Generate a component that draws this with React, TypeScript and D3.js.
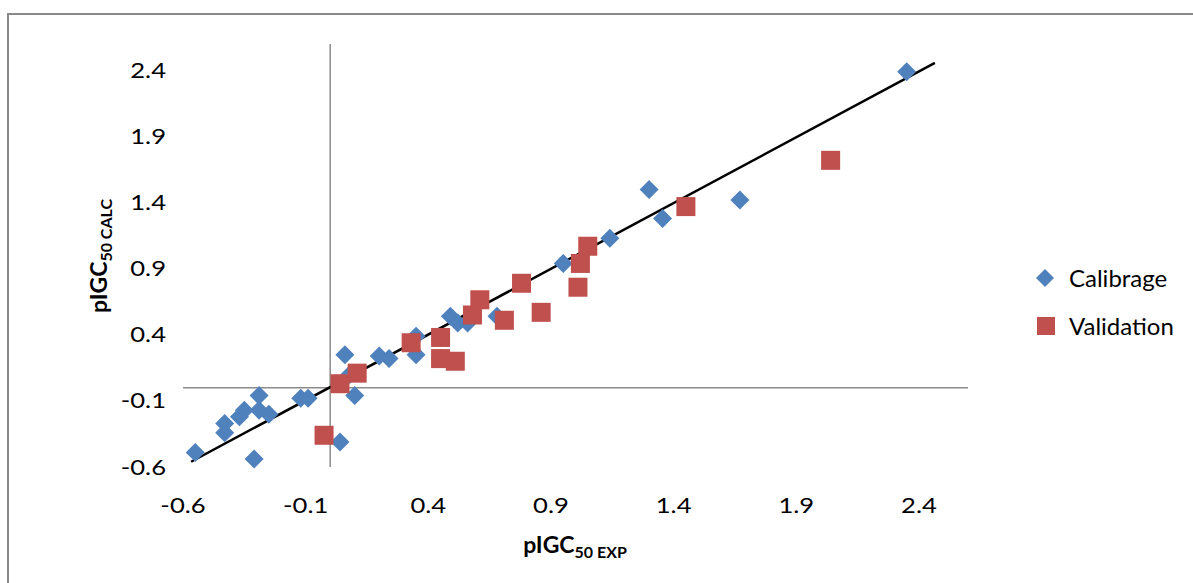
import React from "react";
import * as d3 from "d3";

// chart values
const calX = [-0.55, -0.31, -0.43, -0.43, -0.37, -0.35, -0.29, -0.29, -0.25, -0.12, -0.09, 0.04, 0.06, 0.08, 0.10, 0.20, 0.24, 0.35, 0.35, 0.45, 0.49, 0.52, 0.56, 0.68, 0.95, 1.14, 1.30, 1.355, 1.67, 2.35];
const calY = [-0.49, -0.54, -0.34, -0.27, -0.22, -0.17, -0.17, -0.06, -0.20, -0.08, -0.08, -0.41, 0.25, 0.10, -0.06, 0.24, 0.22, 0.39, 0.25, 0.22, 0.54, 0.49, 0.49, 0.54, 0.94, 1.13, 1.50, 1.28, 1.42, 2.39];
const valX = [-0.025, 0.04, 0.11, 0.33, 0.45, 0.45, 0.51, 0.58, 0.61, 0.71, 0.78, 0.86, 1.01, 1.02, 1.05, 1.45, 2.04];
const valY = [-0.36, 0.03, 0.11, 0.34, 0.38, 0.22, 0.20, 0.55, 0.665, 0.51, 0.79, 0.57, 0.76, 0.94, 1.07, 1.37, 1.72];
const ticks = [-0.6, -0.1, 0.4, 0.9, 1.4, 1.9, 2.4];
const fitX = [-0.567, 2.465];
const fitSlope = 0.995;
const fitIntercept = 0.004;

const blue = "#4F81BD";
const red = "#C0504D";
const font = "Lato, 'Open Sans', sans-serif";

export default function App() {
  const x = d3.scaleLinear().domain([-0.6, 2.6]).range([183, 968]);
  const y = d3.scaleLinear().domain([-0.6, 2.6]).range([467, 44]);
  const fit = d3.line<number>().x((d) => x(d)).y((d) => y(fitSlope * d + fitIntercept));

  const diamond = (cx: number, cy: number, r: number) =>
    `M${cx},${cy - r}L${cx + r},${cy}L${cx},${cy + r}L${cx - r},${cy}Z`;

  // tick labels look stretched sideways in the original
  const stretch = 1.22;

  return (
    <svg width={1193} height={583} style={{ position: "absolute", left: 0, top: 0 }}>
      <rect x={0} y={0} width={1193} height={583} fill="#fff" />
      {/* chart frame */}
      <path d="M8,600 V14 H1200" fill="none" stroke="#898989" strokeWidth={2} />

      {/* axes through zero */}
      <line x1={x(-0.6)} x2={x(2.6)} y1={y(0)} y2={y(0)} stroke="#8c8c8c" strokeWidth={1.5} />
      <line x1={x(0)} x2={x(0)} y1={y(2.6)} y2={y(-0.6)} stroke="#8c8c8c" strokeWidth={1.5} />

      {/* tick labels */}
      {ticks.map((t) => (
        <text key={"x" + t} transform={`translate(${x(t)},513) scale(${stretch},1)`} textAnchor="middle" fontFamily={font} fontSize={21} fill="#000">
          {t.toFixed(1)}
        </text>
      ))}
      {ticks.map((t) => (
        <text key={"y" + t} transform={`translate(166,${y(t) + 7.5}) scale(${stretch},1)`} textAnchor="end" fontFamily={font} fontSize={21} fill="#000">
          {t.toFixed(1)}
        </text>
      ))}

      {/* axis titles */}
      <text x={575} y={553} textAnchor="middle" fontFamily={font} fontSize={23} fontWeight="bold">
        pIGC<tspan fontSize={16} dy={5}>50 EXP</tspan>
      </text>
      <text transform="translate(107,256) rotate(-90)" textAnchor="middle" fontFamily={font} fontSize={23} fontWeight="bold">
        pIGC<tspan fontSize={16} dy={5}>50 CALC</tspan>
      </text>

      {/* fit line */}
      <path d={fit(fitX) || ""} fill="none" stroke="#000" strokeWidth={2.5} />

      {/* Calibrage */}
      {calX.map((v, i) => (
        <path key={"c" + i} d={diamond(x(v), y(calY[i]), 9.5)} fill={blue} />
      ))}
      {/* Validation */}
      {valX.map((v, i) => (
        <rect key={"v" + i} x={x(v) - 9.5} y={y(valY[i]) - 9.5} width={19} height={19} fill={red} />
      ))}

      {/* legend */}
      <path d={diamond(1045, 278, 9)} fill={blue} />
      <text x={1069} y={287} fontFamily={font} fontSize={24}>Calibrage</text>
      <rect x={1037} y={317} width={18} height={18} fill={red} />
      <text x={1069} y={335} fontFamily={font} fontSize={24}>Validation</text>
    </svg>
  );
}
